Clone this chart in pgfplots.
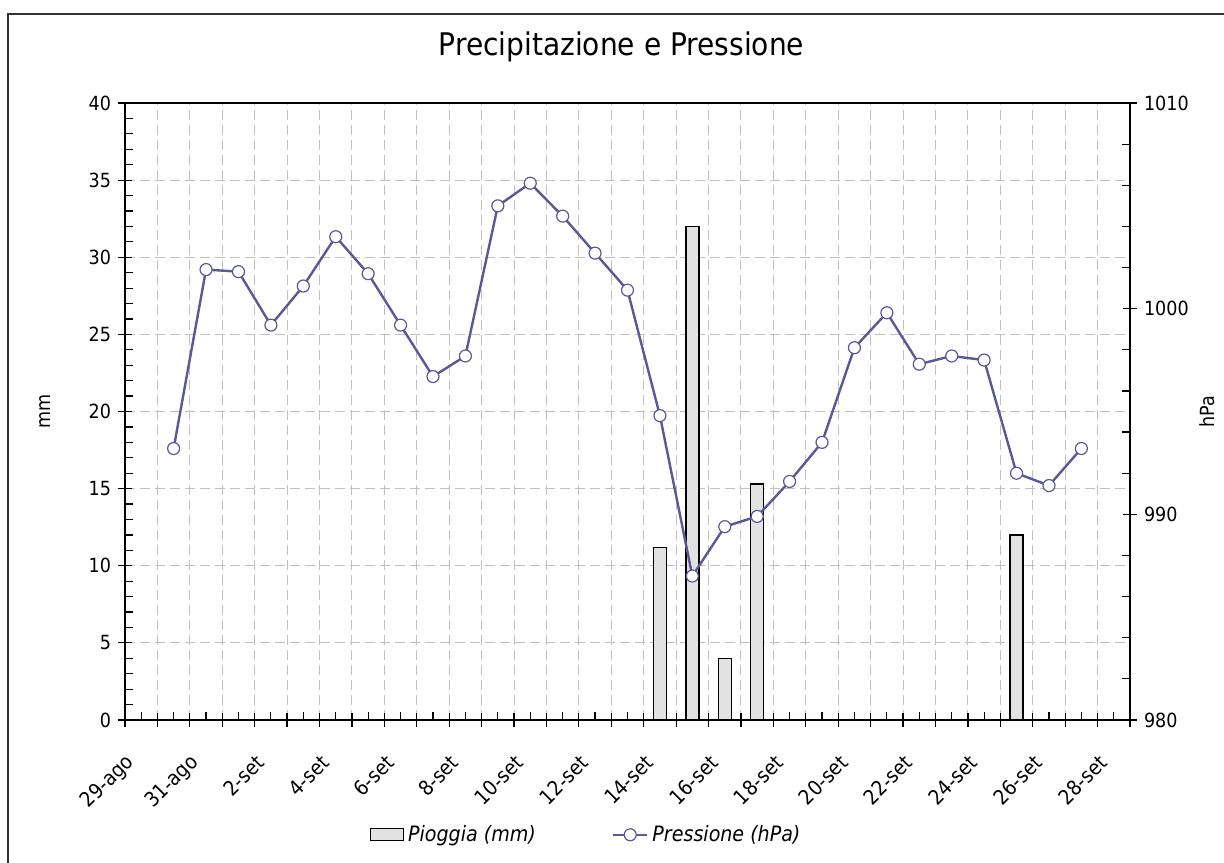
\documentclass[border=0pt]{standalone}
\usepackage{fontspec}
\setmainfont{DejaVu Sans Condensed}
\usepackage{pgfplots}
\pgfplotsset{compat=1.18}

\definecolor{pressc}{RGB}{88,89,150}
\definecolor{barfill}{RGB}{226,226,226}
\definecolor{gridc}{RGB}{192,192,192}

\newcommand{\tickfont}{\fontsize{9.75}{11}\selectfont}

\begin{document}
\begin{tikzpicture}
\pgfplotsset{
  every axis/.append style={
    scale only axis, width=502.5pt, height=308.5pt,
    at={(0pt,0pt)}, anchor=south west,
    xmin=0, xmax=31,
    tick label style={font=\tickfont},
    label style={font=\tickfont},
    /pgf/number format/assume math mode=true,
    /pgf/number format/1000 sep={},
    tick align=center,
    major tick length=7pt,
    minor tick length=4pt,
    every tick/.style={black, line width=0.6pt},
    axis line style={line width=0.75pt},
  }
}
% rain (left axis)
\begin{axis}[
  xtick={0,...,31},
  xticklabels={29-ago,,31-ago,,2-set,,4-set,,6-set,,8-set,,10-set,,12-set,,14-set,,16-set,,18-set,,20-set,,22-set,,24-set,,26-set,,28-set,,},
  xticklabel style={rotate=45, anchor=east, xshift=-5.9pt, yshift=-13.4pt, font=\fontsize{10.3}{12}\selectfont},
  minor x tick num=1,
  minor x tick style={yshift=2pt},
  minor y tick style={xshift=2pt},
  xtick pos=bottom,
  ymin=0, ymax=40,
  ytick={0,5,...,40},
  minor y tick num=4,
  ytick pos=left,
  xmajorgrids, ymajorgrids,
  major grid style={gridc, dash pattern=on 5pt off 2.5pt, line width=0.5pt},
  ylabel={mm},
  ylabel style={at={(axis description cs:-0.0796,0.5)}, anchor=center},
  title={Precipitazione e Pressione},
  title style={at={(axis description cs:0.494,1.0)}, anchor=center, yshift=22pt, font=\fontsize{15.6}{18}\selectfont},
]
\addplot[ybar, bar width=0.4, fill=barfill, draw=black, line width=0.7pt]
  coordinates {(16.5,11.2) (17.5,32.0) (18.5,4.0) (19.5,15.3) (27.5,12.0)};
\end{axis}
% pressure (right axis)
\begin{axis}[
  axis y line*=right,
  axis x line=none,
  ymin=980, ymax=1010,
  ytick={980,990,1000,1010},
  minor y tick num=4,
  minor y tick style={xshift=-2pt},
  ylabel={hPa},
  ylabel style={at={(axis description cs:1.0766,0.5)}, anchor=center, rotate=0},
  legend columns=2,
  legend style={at={(axis description cs:0.46,-0.186)}, anchor=center, draw=none, fill=none,
    font=\itshape\fontsize{10.6}{12}\selectfont,
    /tikz/every even column/.append style={column sep=36pt}},
]
\addlegendimage{legend image code/.code={\draw[fill=barfill, draw=black, line width=0.5pt] (0pt,-3pt) rectangle (16.5pt,3pt);}}
\addlegendentry{Pioggia (mm)}
\addplot[pressc, line width=1.2pt, mark=*, mark size=3pt,
  mark options={fill=white, draw=pressc, line width=0.6pt}]
  coordinates {
  (1.5,993.2) (2.5,1001.9) (3.5,1001.8) (4.5,999.2) (5.5,1001.1)
  (6.5,1003.5) (7.5,1001.7) (8.5,999.2) (9.5,996.7) (10.5,997.7)
  (11.5,1005.0) (12.5,1006.1) (13.5,1004.5) (14.5,1002.7) (15.5,1000.9)
  (16.5,994.8) (17.5,987.0) (18.5,989.4) (19.5,989.9) (20.5,991.6)
  (21.5,993.5) (22.5,998.1) (23.5,999.8) (24.5,997.3) (25.5,997.7)
  (26.5,997.5) (27.5,992.0) (28.5,991.4) (29.5,993.2)
  };
\addlegendentry{Pressione (hPa)}
\end{axis}
\draw[line width=0.8pt, black!80] (-58.5pt,-80pt) -- (-58.5pt,353pt) -- (560pt,353pt);
\pgfresetboundingbox
\path[use as bounding box] (-62.5pt,-71pt) rectangle (549.5pt,360pt);
\end{tikzpicture}
\end{document}
